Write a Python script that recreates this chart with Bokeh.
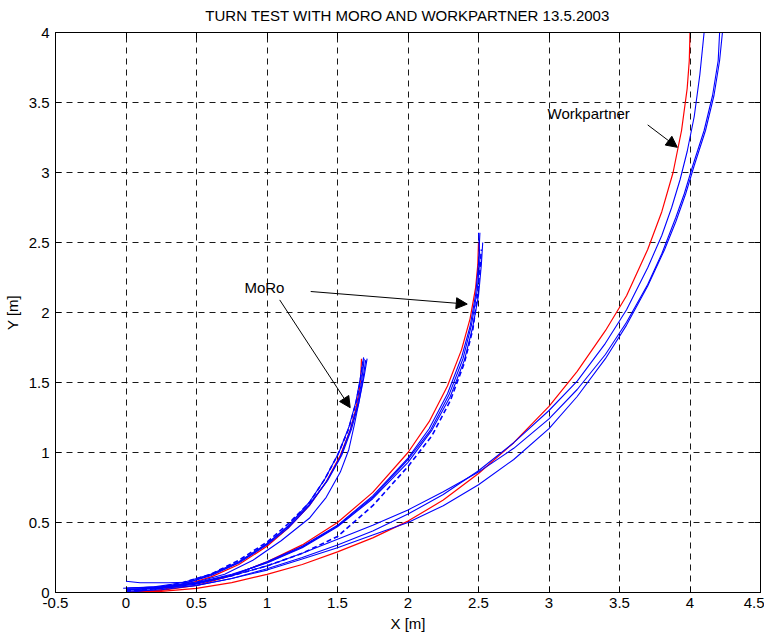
from bokeh.plotting import figure
from bokeh.models import Range1d, LinearAxis, Arrow, NormalHead, Label, FixedTicker, CustomJSTickFormatter
from bokeh.embed import file_html
from bokeh.resources import INLINE

FONT = "Liberation Sans"

TITLE = "TURN TEST WITH MORO AND WORKPARTNER 13.5.2003"
X_TICKS = [-0.5, 0, 0.5, 1, 1.5, 2, 2.5, 3, 3.5, 4, 4.5]
X_TICK_LABELS = ["-0.5", "0", "0.5", "1", "1.5", "2", "2.5", "3", "3.5", "4", "4.5"]
Y_TICKS = [0, 0.5, 1, 1.5, 2, 2.5, 3, 3.5, 4]
Y_TICK_LABELS = ["0", "0.5", "1", "1.5", "2", "2.5", "3", "3.5", "4"]

# ---- MoRo, small turn ----
moro_small_ref_x = [0.00, 0.20, 0.40, 0.60, 0.80, 1.00, 1.15, 1.30, 1.42, 1.52, 1.59, 1.63, 1.655, 1.665, 1.67]
moro_small_ref_y = [0.00, 0.012, 0.05, 0.11, 0.20, 0.33, 0.46, 0.62, 0.79, 0.98, 1.16, 1.31, 1.45, 1.54, 1.67]

moro_small_1_x = [0.00, 0.20, 0.40, 0.60, 0.80, 1.00, 1.15, 1.30, 1.42, 1.52, 1.59, 1.64, 1.67, 1.69]
moro_small_1_y = [0.02, 0.03, 0.06, 0.12, 0.21, 0.34, 0.46, 0.62, 0.79, 0.97, 1.16, 1.33, 1.50, 1.67]
moro_small_2_x = [-0.02, 0.20, 0.40, 0.60, 0.80, 1.00, 1.15, 1.30, 1.43, 1.53, 1.60, 1.65, 1.68, 1.70]
moro_small_2_y = [0.03, 0.04, 0.07, 0.13, 0.22, 0.35, 0.47, 0.63, 0.80, 0.98, 1.17, 1.35, 1.52, 1.66]
moro_small_3_x = [0.00, 0.20, 0.40, 0.60, 0.80, 1.00, 1.15, 1.30, 1.41, 1.51, 1.58, 1.63, 1.66, 1.685]
moro_small_3_y = [0.00, 0.02, 0.06, 0.125, 0.215, 0.345, 0.475, 0.645, 0.81, 1.00, 1.18, 1.36, 1.52, 1.68]
moro_small_4_x = [0.00, 0.10, 0.30, 0.50, 0.70, 0.90, 1.10, 1.30, 1.42, 1.52, 1.58, 1.62, 1.66, 1.69, 1.71]
moro_small_4_y = [0.08, 0.07, 0.07, 0.075, 0.13, 0.23, 0.37, 0.53, 0.68, 0.86, 1.02, 1.20, 1.40, 1.55, 1.67]
moro_small_dash_x = [0.00, 0.20, 0.40, 0.60, 0.80, 1.00, 1.15, 1.30, 1.41, 1.50, 1.58, 1.63, 1.66, 1.68]
moro_small_dash_y = [0.01, 0.03, 0.07, 0.13, 0.23, 0.36, 0.49, 0.64, 0.81, 0.98, 1.17, 1.35, 1.50, 1.65]

# ---- MoRo, wide turn ----
moro_wide_ref_x = [0.00, 0.25, 0.50, 0.75, 1.00, 1.25, 1.50, 1.75, 2.00, 2.15, 2.28, 2.38, 2.44, 2.48, 2.495, 2.50]
moro_wide_ref_y = [0.00, 0.015, 0.05, 0.12, 0.22, 0.34, 0.50, 0.715, 1.00, 1.22, 1.475, 1.735, 1.955, 2.18, 2.34, 2.50]

moro_wide_1_x = [0.00, 0.25, 0.50, 0.75, 1.00, 1.25, 1.50, 1.75, 2.00, 2.15, 2.28, 2.38, 2.44, 2.48, 2.50, 2.51]
moro_wide_1_y = [0.02, 0.03, 0.06, 0.12, 0.22, 0.33, 0.48, 0.69, 0.96, 1.17, 1.42, 1.68, 1.90, 2.13, 2.35, 2.57]
moro_wide_2_x = [0.00, 0.25, 0.50, 0.75, 1.00, 1.25, 1.50, 1.75, 2.00, 2.17, 2.30, 2.40, 2.46, 2.50, 2.52, 2.53]
moro_wide_2_y = [0.03, 0.04, 0.07, 0.13, 0.21, 0.32, 0.47, 0.67, 0.93, 1.16, 1.40, 1.66, 1.90, 2.12, 2.34, 2.50]
moro_wide_3_x = [0.00, 0.25, 0.50, 0.75, 1.00, 1.25, 1.50, 1.75, 2.00, 2.16, 2.29, 2.39, 2.45, 2.49, 2.51, 2.50]
moro_wide_3_y = [0.02, 0.035, 0.065, 0.125, 0.215, 0.325, 0.475, 0.68, 0.95, 1.16, 1.41, 1.67, 1.91, 2.15, 2.38, 2.57]
moro_wide_dash_x = [0.00, 0.25, 0.50, 0.75, 1.00, 1.25, 1.50, 1.75, 2.00, 2.17, 2.30, 2.40, 2.46, 2.49, 2.51, 2.52]
moro_wide_dash_y = [0.01, 0.03, 0.07, 0.12, 0.19, 0.28, 0.40, 0.62, 0.90, 1.12, 1.37, 1.64, 1.88, 2.10, 2.30, 2.45]

# ---- Workpartner ----
wp_ref_x = [0.00, 0.25, 0.50, 0.75, 1.00, 1.25, 1.50, 1.75, 2.00, 2.25, 2.50, 2.75, 3.00, 3.20, 3.40, 3.55, 3.70, 3.80, 3.88, 3.94, 3.98, 3.995, 4.00]
wp_ref_y = [0.00, 0.008, 0.03, 0.07, 0.13, 0.20, 0.29, 0.39, 0.51, 0.66, 0.85, 1.07, 1.33, 1.58, 1.87, 2.12, 2.45, 2.72, 3.00, 3.30, 3.60, 3.80, 4.00]

wp_1_x = [0.00, 0.25, 0.50, 0.75, 1.00, 1.25, 1.50, 1.75, 2.00, 2.25, 2.50, 2.75, 3.00, 3.20, 3.40, 3.55, 3.70, 3.80, 3.87, 3.93, 3.98, 4.03, 4.07, 4.10]
wp_1_y = [0.02, 0.03, 0.05, 0.10, 0.17, 0.25, 0.34, 0.44, 0.56, 0.70, 0.87, 1.07, 1.30, 1.51, 1.78, 2.02, 2.32, 2.55, 2.75, 2.95, 3.15, 3.40, 3.70, 4.00]
wp_2_x = [0.00, 0.25, 0.50, 0.75, 1.00, 1.25, 1.50, 1.75, 2.00, 2.25, 2.50, 2.75, 3.00, 3.20, 3.40, 3.55, 3.70, 3.80, 3.90, 3.96, 4.02, 4.10, 4.16, 4.20, 4.21]
wp_2_y = [0.03, 0.04, 0.07, 0.12, 0.19, 0.28, 0.38, 0.48, 0.59, 0.72, 0.86, 1.03, 1.24, 1.45, 1.70, 1.93, 2.20, 2.42, 2.68, 2.85, 3.05, 3.30, 3.55, 3.80, 4.00]
wp_3_x = [0.00, 0.25, 0.50, 0.75, 1.00, 1.25, 1.50, 1.75, 2.00, 2.25, 2.50, 2.75, 3.00, 3.20, 3.40, 3.55, 3.70, 3.82, 3.90, 3.97, 4.03, 4.11, 4.17, 4.21, 4.23]
wp_3_y = [0.01, 0.02, 0.05, 0.10, 0.16, 0.24, 0.32, 0.41, 0.50, 0.62, 0.77, 0.95, 1.17, 1.40, 1.67, 1.91, 2.19, 2.45, 2.65, 2.85, 3.05, 3.30, 3.55, 3.80, 4.00]

# ---- annotations (data coordinates) ----
moro_label = ("MoRo", 0.84, 2.18)
moro_arrow_1 = (1.31, 2.15, 2.42, 2.06)
moro_arrow_2 = (1.09, 2.09, 1.59, 1.32)
wp_label = ("Workpartner", 2.99, 3.42)
wp_arrow = (3.70, 3.34, 3.91, 3.18)

RED = "#ff0000"
BLUE = "#0000ff"

p = figure(frame_width=705, frame_height=560,
           x_range=Range1d(-0.5, 4.5), y_range=Range1d(0, 4),
           output_backend="svg", toolbar_location=None, title=TITLE)
p.min_border_left = 47
p.min_border_right = 4
p.min_border_top = 4
p.min_border_bottom = 4
p.background_fill_color = "white"
p.border_fill_color = "white"
p.outline_line_color = "black"
p.outline_line_width = 1

p.title.align = "center"
p.title.vertical_align = "top"
p.title.text_font = FONT
p.title.text_font_size = "15px"
p.title.text_font_style = "normal"
p.title.text_color = "black"
p.title.offset = 0
p.title.standoff = 13

for ax in (p.xaxis[0], p.yaxis[0]):
    ax.major_label_text_font = FONT
    ax.major_label_text_font_size = "15px"
    ax.major_label_text_color = "black"
    ax.axis_label_text_font = FONT
    ax.axis_label_text_font_size = "15px"
    ax.axis_label_text_font_style = "normal"
    ax.axis_label_text_color = "black"
    ax.major_tick_in = 6
    ax.major_tick_out = 0
    ax.minor_tick_in = 0
    ax.minor_tick_out = 0
    ax.axis_line_color = "black"
    ax.major_tick_line_color = "black"

p.xaxis[0].ticker = FixedTicker(ticks=X_TICKS)
p.xaxis[0].major_label_overrides = dict(zip(X_TICKS, X_TICK_LABELS))
p.xaxis[0].axis_label = "X [m]"
p.xaxis[0].major_label_standoff = 5
p.xaxis[0].axis_label_standoff = 4
p.yaxis[0].ticker = FixedTicker(ticks=Y_TICKS)
p.yaxis[0].major_label_overrides = dict(zip(Y_TICKS, Y_TICK_LABELS))
p.yaxis[0].axis_label = "Y [m]"
p.yaxis[0].major_label_standoff = 6
p.yaxis[0].axis_label_standoff = 5
p.yaxis[0].major_label_orientation = "horizontal"

blank = CustomJSTickFormatter(code="return ''")
top_ax = LinearAxis(ticker=FixedTicker(ticks=X_TICKS), formatter=blank,
                    major_tick_in=6, major_tick_out=0, minor_tick_in=0, minor_tick_out=0,
                    major_label_standoff=0)
right_ax = LinearAxis(ticker=FixedTicker(ticks=Y_TICKS), formatter=blank,
                      major_tick_in=6, major_tick_out=0, minor_tick_in=0, minor_tick_out=0,
                      major_label_standoff=0)
p.add_layout(top_ax, "above")
p.add_layout(right_ax, "right")

for g in (p.xgrid[0], p.ygrid[0]):
    g.grid_line_color = "black"
    g.grid_line_dash = "6 5"
    g.grid_line_width = 1
    g.grid_line_alpha = 0.9
p.xgrid[0].ticker = FixedTicker(ticks=X_TICKS)
p.ygrid[0].ticker = FixedTicker(ticks=Y_TICKS)

blue_solid = [
    (moro_small_1_x, moro_small_1_y), (moro_small_2_x, moro_small_2_y),
    (moro_small_3_x, moro_small_3_y), (moro_small_4_x, moro_small_4_y),
    (moro_wide_1_x, moro_wide_1_y), (moro_wide_2_x, moro_wide_2_y),
    (moro_wide_3_x, moro_wide_3_y),
    (wp_1_x, wp_1_y), (wp_2_x, wp_2_y), (wp_3_x, wp_3_y),
]
blue_dashed = [(moro_small_dash_x, moro_small_dash_y), (moro_wide_dash_x, moro_wide_dash_y)]
red_refs = [(moro_small_ref_x, moro_small_ref_y), (moro_wide_ref_x, moro_wide_ref_y), (wp_ref_x, wp_ref_y)]

for xs, ys in red_refs:
    p.line(xs, ys, line_color=RED, line_width=1.2)
for xs, ys in blue_solid:
    p.line(xs, ys, line_color=BLUE, line_width=1.1)
for xs, ys in blue_dashed:
    p.line(xs, ys, line_color=BLUE, line_width=1.6, line_dash="5 3")

def add_label(spec):
    text, x, y = spec
    p.add_layout(Label(x=x, y=y, text=text, text_font=FONT, text_font_size="15px",
                       text_color="black", text_baseline="middle", text_align="left"))

def add_arrow(spec):
    x0, y0, x1, y1 = spec
    p.add_layout(Arrow(end=NormalHead(size=11, fill_color="black", line_color="black", line_width=1),
                       x_start=x0, y_start=y0, x_end=x1, y_end=y1,
                       line_color="black", line_width=1))

add_label(moro_label)
add_label(wp_label)
add_arrow(moro_arrow_1)
add_arrow(moro_arrow_2)
add_arrow(wp_arrow)

open("out.html", "w").write(file_html(p, INLINE))
